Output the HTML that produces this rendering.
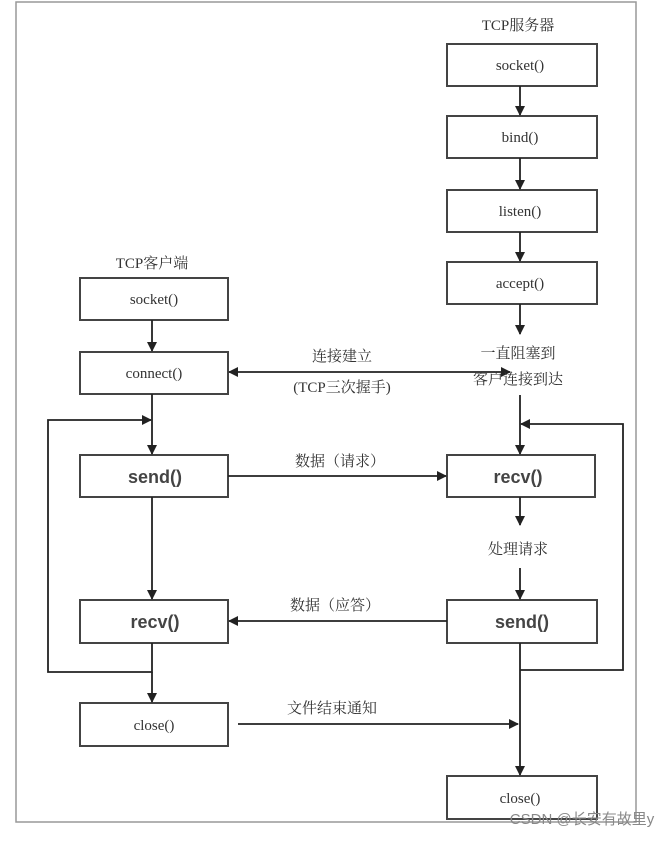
<!DOCTYPE html>
<html><head><meta charset="utf-8"><style>
body{margin:0;background:#fff;}
svg text{font-family:"Liberation Serif","Noto Serif CJK SC",serif;fill:#333;}
.b{font-family:"Liberation Sans","Noto Sans CJK SC",sans-serif !important;font-weight:bold;fill:#444 !important;}
</style></head><body>
<svg width="658" height="837" xmlns="http://www.w3.org/2000/svg">
<defs><marker id="a" markerWidth="10" markerHeight="10" refX="9" refY="5" orient="auto" markerUnits="userSpaceOnUse"><path d="M0,0 L10,5 L0,10z" fill="#222"/></marker></defs>
<rect x="16" y="2" width="620" height="820" fill="none" stroke="#999" stroke-width="1.5"/>
<g fill="#fff" stroke="#444" stroke-width="2">
<rect x="447" y="44" width="150" height="42"/><rect x="447" y="116" width="150" height="42"/>
<rect x="447" y="190" width="150" height="42"/><rect x="447" y="262" width="150" height="42"/>
<rect x="80" y="278" width="148" height="42"/><rect x="80" y="352" width="148" height="42"/>
<rect x="80" y="455" width="148" height="42"/><rect x="80" y="600" width="148" height="43"/>
<rect x="80" y="703" width="148" height="43"/>
<rect x="447" y="455" width="148" height="42"/><rect x="447" y="600" width="150" height="43"/>
<rect x="447" y="776" width="150" height="43"/>
</g>
<g stroke="#222" stroke-width="1.8" fill="none" marker-end="url(#a)">
<line x1="520" y1="86" x2="520" y2="115"/><line x1="520" y1="158" x2="520" y2="189"/>
<line x1="520" y1="232" x2="520" y2="261"/><line x1="520" y1="304" x2="520" y2="334"/>
<line x1="152" y1="320" x2="152" y2="351"/>
<line x1="152" y1="394" x2="152" y2="454"/>
<polyline points="152,643 152,672 48,672 48,420 151,420"/>
<line x1="152" y1="497" x2="152" y2="599"/>
<line x1="152" y1="672" x2="152" y2="702"/>
<line x1="520" y1="395" x2="520" y2="454"/>
<polyline points="520,670 623,670 623,424 521,424"/>
<line x1="520" y1="497" x2="520" y2="525"/><line x1="520" y1="568" x2="520" y2="599"/>
<line x1="520" y1="643" x2="520" y2="775"/>
<line x1="228" y1="476" x2="446" y2="476"/>
<line x1="447" y1="621" x2="229" y2="621"/>
<line x1="238" y1="724" x2="518" y2="724"/>
<line x1="300" y1="372" x2="229" y2="372"/><line x1="300" y1="372" x2="510" y2="372"/>
</g>
<g font-size="15" text-anchor="middle">
<text x="518" y="30">TCP服务器</text><text x="152" y="268">TCP客户端</text>
<text x="520" y="70">socket()</text><text x="520" y="142">bind()</text>
<text x="520" y="216">listen()</text><text x="520" y="288">accept()</text>
<text x="154" y="304">socket()</text><text x="154" y="378">connect()</text>
<text x="154" y="730">close()</text><text x="520" y="803">close()</text>
<text x="342" y="361">连接建立</text><text x="342" y="392">(TCP三次握手)</text>
<text x="518" y="358">一直阻塞到</text><text x="518" y="384">客户连接到达</text>
<text x="340" y="466">数据（请求）</text><text x="335" y="610">数据（应答）</text>
<text x="518" y="554">处理请求</text><text x="332" y="713">文件结束通知</text>
<text class="b" x="155" y="483" font-size="18">send()</text>
<text class="b" x="518" y="483" font-size="18">recv()</text>
<text class="b" x="155" y="628" font-size="18">recv()</text>
<text class="b" x="522" y="628" font-size="18">send()</text>
</g>
<text x="582" y="824" text-anchor="middle" font-size="15" style="font-family:'Liberation Sans','Noto Sans CJK SC',sans-serif;fill:#888">CSDN @长安有故里y</text>
</svg>
</body></html>
